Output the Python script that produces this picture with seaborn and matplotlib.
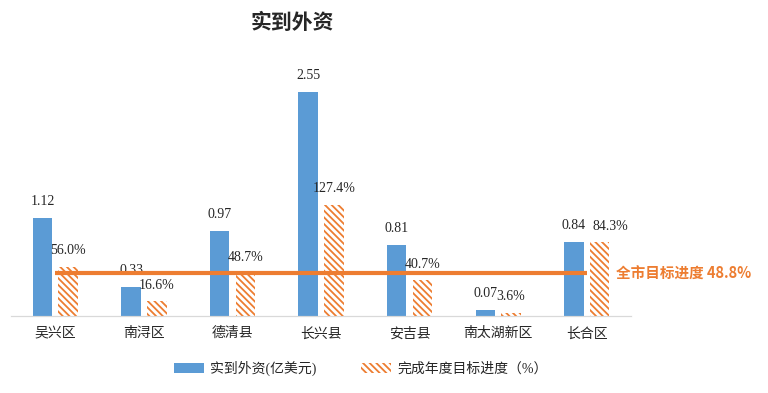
import pandas as pd
import matplotlib.pyplot as plt
from matplotlib.patches import Patch
import seaborn as sns

# Data
districts = ["吴兴区", "南浔区", "德清县", "长兴县", "安吉县", "南太湖新区", "长合区"]
fdi = [1.12, 0.33, 0.97, 2.55, 0.81, 0.07, 0.84]          # 亿美元
progress = [56.0, 16.6, 48.7, 127.4, 40.7, 3.6, 84.3]     # %
city_target = 48.8

s1 = "实到外资(亿美元)"
s2 = "完成年度目标进度（%）"
blue = "#5B9BD5"
orange = "#ED7D31"
hatch = "\\" * 5

df = pd.DataFrame({
    "区县": districts * 2,
    "系列": [s1] * len(districts) + [s2] * len(districts),
    "值": fdi + progress,
})

sns.set_style("white")
plt.rcParams["font.family"] = ["Liberation Serif", "Noto Sans CJK SC", "DejaVu Sans"]
plt.rcParams["hatch.linewidth"] = 1.3

fig = plt.figure(figsize=(7.68, 3.93), dpi=100)
ax1 = fig.add_axes([0.0145, 0.196, 0.807, 0.626])
ax2 = ax1.twinx()

# -------------------------------
# bars: FDI on left axis, progress on right axis
# -------------------------------
bar_kw = dict(x="区县", y="值", hue="系列", hue_order=[s1, s2],
              palette={s1: blue, s2: orange}, saturation=1,
              width=0.58, gap=0.24, dodge=True, legend=False)
sns.barplot(data=df[df["系列"] == s1], ax=ax1, **bar_kw)
sns.barplot(data=df[df["系列"] == s2], ax=ax2, **bar_kw)

for p in ax1.patches:
    p.set_linewidth(0)
for p in ax2.patches:
    p.set_facecolor("white")
    p.set_edgecolor(orange)
    p.set_hatch(hatch)
    p.set_linewidth(0)


def full(c):
    return len(c) == len(districts) and all(b is not None for b in c)


for c in ax1.containers:
    if full(c):
        ax1.bar_label(c, labels=[f"{v:.2f}" for v in fdi], padding=7, fontsize=10)
for c in ax2.containers:
    if full(c):
        txts = ax2.bar_label(c, labels=[f"{v:.1f}%" for v in progress], padding=7, fontsize=10)
        txts[-1].xyann = (7.5, 7)   # nudge last label away from its neighbour

# city target line
ax2.hlines(city_target, 0, len(districts) - 1, color=orange, lw=3, zorder=5)
ax2.annotate(f"全市目标进度 {city_target}%", xy=(len(districts) - 1, city_target),
             xytext=(21, 0), textcoords="offset points", va="center", ha="left",
             color=orange, fontsize=10.5, fontweight="bold",
             family=["Noto Sans CJK SC", "DejaVu Sans"], annotation_clip=False)

ax1.set_ylim(0, 2.8)
ax2.set_ylim(0, 282)
ax1.set_xlim(-0.5, len(districts) - 0.5)

# axes styling
for ax in (ax1, ax2):
    for s in ["top", "left", "right"]:
        ax.spines[s].set_visible(False)
    ax.spines["bottom"].set_color("#d9d9d9")
    ax.set_yticks([])
    ax.set_xlabel("")
    ax.set_ylabel("")
ax1.tick_params(axis="x", length=0, pad=8, labelsize=10)
ax2.tick_params(axis="x", length=0)

fig.text(0.381, 0.943, "实到外资", ha="center", va="center", fontsize=15,
         fontweight="bold", family=["Noto Sans CJK SC", "DejaVu Sans"])

handles = [
    Patch(facecolor=blue, edgecolor="none", lw=0),
    Patch(facecolor="white", edgecolor=orange, hatch=hatch, lw=0),
]
fig.legend(handles, [s1, s2], loc="center", bbox_to_anchor=(0.47, 0.063),
           ncol=2, frameon=False, fontsize=10, handlelength=2.15,
           handleheight=0.7, columnspacing=3.2, handletextpad=0.45)

plt.savefig("out.png", dpi=100)
